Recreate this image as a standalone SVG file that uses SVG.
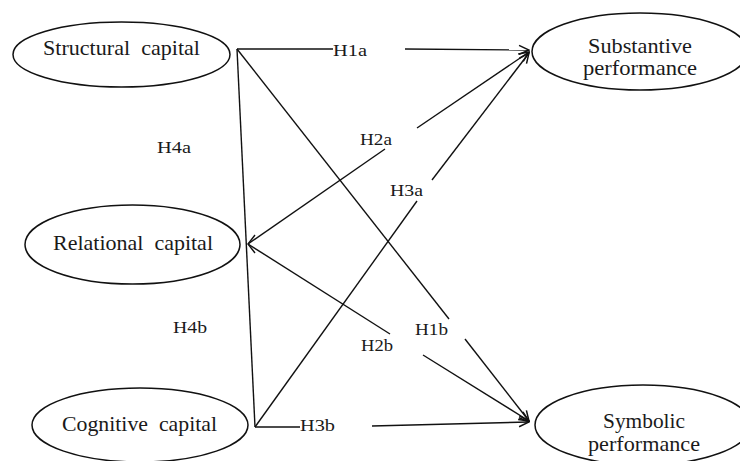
<svg xmlns="http://www.w3.org/2000/svg" width="740" height="461" viewBox="0 0 740 461">
<defs>
<style>
.node ellipse{fill:#fff;stroke:#111;stroke-width:1.5}
.node text{font-family:"Liberation Serif","Times New Roman",serif;font-size:21px;fill:#1a1a1a;white-space:pre}
.lbl{font-family:"Liberation Serif","Times New Roman",serif;font-size:17px;fill:#1a1a1a}
.conn line,.conn path{stroke:#111;stroke-width:1.4;fill:none}
</style>
<marker id="arr" viewBox="0 0 12 12" refX="11" refY="6" markerWidth="12" markerHeight="12" markerUnits="userSpaceOnUse" orient="auto">
<path d="M1,1.5 L11,6 L1,10.5" fill="none" stroke="#111" stroke-width="1.5"/>
</marker>
</defs>
<rect width="740" height="461" fill="#fff"/>
<g id="structural" class="node">
<ellipse cx="121.5" cy="54.5" rx="108.5" ry="32.5"/>
<text x="43" y="55" textLength="157" lengthAdjust="spacingAndGlyphs" xml:space="preserve">Structural  capital</text>
</g>
<g id="relational" class="node">
<ellipse cx="132.5" cy="244.5" rx="107.5" ry="39.5"/>
<text x="53" y="250" textLength="160" lengthAdjust="spacingAndGlyphs" xml:space="preserve">Relational  capital</text>
</g>
<g id="cognitive" class="node">
<ellipse cx="140" cy="425" rx="108" ry="37"/>
<text x="62" y="431" textLength="155" lengthAdjust="spacingAndGlyphs" xml:space="preserve">Cognitive  capital</text>
</g>
<g id="substantive" class="node">
<ellipse cx="640" cy="51.5" rx="108" ry="38.5"/>
<text x="588" y="53" textLength="104" lengthAdjust="spacingAndGlyphs">Substantive</text>
<text x="583" y="75" textLength="114" lengthAdjust="spacingAndGlyphs">performance</text>
</g>
<g id="symbolic" class="node">
<ellipse cx="643" cy="425" rx="108" ry="40"/>
<text x="603" y="428" textLength="82" lengthAdjust="spacingAndGlyphs">Symbolic</text>
<text x="588" y="451" textLength="112" lengthAdjust="spacingAndGlyphs">performance</text>
</g>
<g id="connectors" class="conn">
<line x1="237" y1="49" x2="333" y2="49"/>
<line x1="405" y1="49" x2="529" y2="50" marker-end="url(#arr)"/>
<line x1="237" y1="49" x2="449" y2="319"/>
<line x1="465" y1="339" x2="529" y2="421" marker-end="url(#arr)"/>
<line x1="248" y1="244" x2="385" y2="149"/>
<line x1="417" y1="128" x2="529" y2="52" marker-end="url(#arr)"/>
<line x1="248" y1="244" x2="390" y2="334"/>
<line x1="423" y1="355" x2="529" y2="421" marker-end="url(#arr)"/>
<line x1="255" y1="427" x2="417" y2="201"/>
<line x1="432" y1="180" x2="529" y2="53" marker-end="url(#arr)"/>
<line x1="255" y1="427" x2="300" y2="427"/>
<line x1="372" y1="426" x2="529" y2="422" marker-end="url(#arr)"/>
<line x1="237" y1="49" x2="255" y2="427"/>
<path d="M255,235 L248,244 L255,253"/>
</g>
<g id="labels">
<text class="lbl" x="333" y="56" textLength="34" lengthAdjust="spacingAndGlyphs">H1a</text>
<text class="lbl" x="360" y="145" textLength="32" lengthAdjust="spacingAndGlyphs">H2a</text>
<text class="lbl" x="390" y="196" textLength="33" lengthAdjust="spacingAndGlyphs">H3a</text>
<text class="lbl" x="157" y="153" textLength="34" lengthAdjust="spacingAndGlyphs">H4a</text>
<text class="lbl" x="173" y="333" textLength="34" lengthAdjust="spacingAndGlyphs">H4b</text>
<text class="lbl" x="415" y="335" textLength="33" lengthAdjust="spacingAndGlyphs">H1b</text>
<text class="lbl" x="361" y="351" textLength="32" lengthAdjust="spacingAndGlyphs">H2b</text>
<text class="lbl" x="300" y="431" textLength="35" lengthAdjust="spacingAndGlyphs">H3b</text>
</g>
</svg>
